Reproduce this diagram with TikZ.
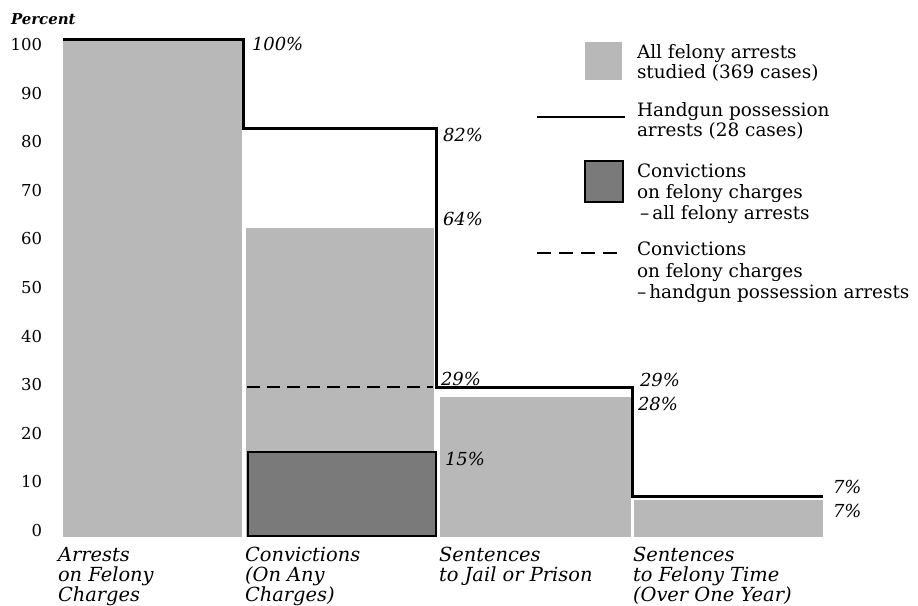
\documentclass[tikz,border=0pt]{standalone}
\usepackage{fontspec}
\setmainfont{DejaVu Serif}
\begin{document}
\begin{tikzpicture}[x=1bp,y=-1bp,
  every node/.style={inner sep=0pt, outer sep=0pt},
  lbl/.style={anchor=base west, font=\fontsize{18.5}{21}\selectfont},
  cat/.style={anchor=base west, font=\itshape\fontsize{19.5}{21}\selectfont},
  pct/.style={anchor=base west, font=\itshape\fontsize{18}{21}\selectfont},
  tick/.style={anchor=base east, font=\fontsize{16.5}{20}\selectfont},
  allbar/.style={fill=black!28, draw=none},
  convbar/.style={fill=black!52, draw=black, line width=2.4bp},
  gunline/.style={line width=3bp, line join=miter},
  gundash/.style={line width=2.4bp, dash pattern=on 13bp off 7bp}]
\useasboundingbox (0,0) rectangle (918,606);

% axis title and scale
\node[anchor=base west, font=\bfseries\itshape\fontsize{15}{18}\selectfont] (ytitle) at (11,25) {Percent};
\foreach \v in {0,10,...,100}
  \node[tick] (tick\v) at (42,{536-4.85*\v}) {\v};

% bars: all felony arrests
\fill[allbar] (63,40) rectangle (242,537);
\fill[allbar] (246,228) rectangle (434,537);
\fill[allbar] (440,397) rectangle (631,537);
\fill[allbar] (634,500) rectangle (823,537);
% felony convictions, all arrests
\draw[convbar] (248,452) rectangle (436,536);

% handgun possession arrests
\draw[gunline] (63,40) -- (243,40) -- (243,129) -- (436,129) -- (436,387)
  -- (632,387) -- (632,496) -- (823,496);
% felony convictions, handgun arrests
\draw[gundash] (247,387) -- (433,387);

% value labels
\node[pct] (p100) at (252,51) {100\%};
\node[pct] (p82) at (443,142) {82\%};
\node[pct] (p64) at (443,226) {64\%};
\node[pct] (p29a) at (441,385) {29\%};
\node[pct] (p15) at (445,465) {15\%};
\node[pct] (p29b) at (640,386) {29\%};
\node[pct] (p28) at (638,410) {28\%};
\node[pct] (p7a) at (833,493) {7\%};
\node[pct] (p7b) at (833,517) {7\%};

% stage labels
\node[cat] (c1a) at (58,561) {Arrests};
\node[cat] (c1b) at (58,581) {on Felony};
\node[cat] (c1c) at (58,601) {Charges};
\node[cat] (c2a) at (245,561) {Convictions};
\node[cat] (c2b) at (245,581) {(On Any};
\node[cat] (c2c) at (245,601) {Charges)};
\node[cat] (c3a) at (439,561) {Sentences};
\node[cat] (c3b) at (439,581) {to Jail or Prison};
\node[cat] (c4a) at (633,561) {Sentences};
\node[cat] (c4b) at (633,581) {to Felony Time};
\node[cat] (c4c) at (633,601) {(Over One Year)};

% legend
\fill[allbar] (585,42) rectangle (622,80);
\node[lbl] (l1a) at (637,59) {All felony arrests};
\node[lbl] (l1b) at (637,79) {studied (369 cases)};
\coordinate (s1) at (537,117);
\coordinate (s2) at (625,117);
\draw[line width=2bp] (s1) -- (s2);
\node[lbl] (l2a) at (637,117) {Handgun possession};
\node[lbl] (l2b) at (637,137) {arrests (28 cases)};
\draw[fill=black!52, draw=black, line width=1.5bp] (585,161) rectangle (623,202);
\node[lbl] (l3a) at (637,178) {Convictions};
\node[lbl] (l3b) at (637,199) {on felony charges};
\node[lbl] (l3c) at (637,220) {\,–\,all felony arrests};
\coordinate (d1) at (537,253);
\coordinate (d2) at (622,253);
\draw[gundash, line width=2bp, dash pattern=on 14bp off 8bp] (d1) -- (d2);
\node[lbl] (l4a) at (637,256) {Convictions};
\node[lbl] (l4b) at (637,277) {on felony charges};
\node[lbl] (l4c) at (637,298) {–\,handgun possession arrests};
\end{tikzpicture}
\end{document}
